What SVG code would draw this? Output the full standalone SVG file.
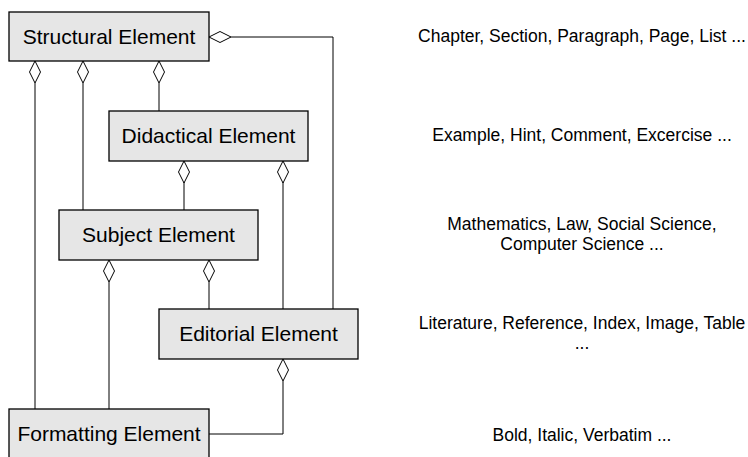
<svg xmlns="http://www.w3.org/2000/svg" width="748" height="457" viewBox="0 0 748 457">
<style>
.box{fill:#e6e6e6;stroke:#000;stroke-width:1.3}
.lbl{font-family:"Liberation Sans",Arial,sans-serif;font-size:21px;text-anchor:middle;fill:#000}
.note{font-family:"Liberation Sans",Arial,sans-serif;font-size:17.5px;text-anchor:middle;fill:#000}
.ln{fill:none;stroke:#000;stroke-width:1}
.dm{fill:#fff;stroke:#000;stroke-width:1}
</style>
<defs>
<path id="dv" d="M0,0 L5.5,11 L0,22 L-5.5,11 Z" class="dm"/>
<path id="dh" d="M0,0 L11,-5.5 L22,0 L11,5.5 Z" class="dm"/>
</defs>
<rect width="748" height="457" fill="#fff"/>
<g id="connectors">
<path class="ln" d="M35,83 V409"/>
<path class="ln" d="M83,83 V210"/>
<path class="ln" d="M159,83 V111"/>
<path class="ln" d="M231,37 H333 V309"/>
<path class="ln" d="M184,182 V210"/>
<path class="ln" d="M283,182 V309"/>
<path class="ln" d="M109,282 V409"/>
<path class="ln" d="M209,282 V309"/>
<path class="ln" d="M283,381 V434 H209"/>
<use href="#dv" x="35" y="61"/>
<use href="#dv" x="83" y="61"/>
<use href="#dv" x="159" y="61"/>
<use href="#dh" x="209" y="37"/>
<use href="#dv" x="184" y="161"/>
<use href="#dv" x="283" y="161"/>
<use href="#dv" x="109" y="260"/>
<use href="#dv" x="209" y="260"/>
<use href="#dv" x="283" y="359"/>
</g>
<g id="structural">
<rect class="box" x="9" y="12" width="200" height="49"/>
<text class="lbl" x="109" y="43.5">Structural Element</text>
</g>
<g id="didactical">
<rect class="box" x="109" y="111" width="199" height="50"/>
<text class="lbl" x="208.5" y="143">Didactical Element</text>
</g>
<g id="subject">
<rect class="box" x="59" y="210" width="199" height="50"/>
<text class="lbl" x="158.5" y="242">Subject Element</text>
</g>
<g id="editorial">
<rect class="box" x="159" y="309" width="199" height="50"/>
<text class="lbl" x="258.5" y="341">Editorial Element</text>
</g>
<g id="formatting">
<rect class="box" x="9" y="409" width="200" height="49"/>
<text class="lbl" x="109" y="441">Formatting Element</text>
</g>
<g id="notes">
<text class="note" x="582" y="42">Chapter, Section, Paragraph, Page, List ...</text>
<text class="note" x="582" y="141">Example, Hint, Comment, Excercise ...</text>
<text class="note" x="582" y="230">Mathematics, Law, Social Science,</text>
<text class="note" x="582" y="250">Computer Science ...</text>
<text class="note" x="582" y="329">Literature, Reference, Index, Image, Table</text>
<text class="note" x="582" y="349">...</text>
<text class="note" x="582" y="441">Bold, Italic, Verbatim ...</text>
</g>
</svg>
